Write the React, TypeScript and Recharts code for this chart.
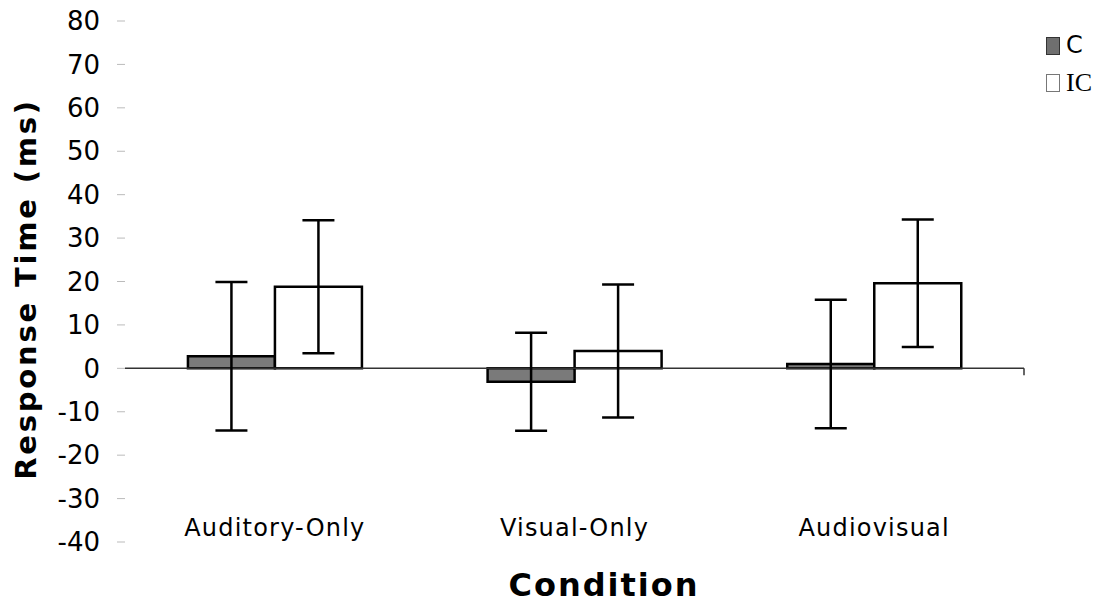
import React from 'react';
import { BarChart, Bar, XAxis, YAxis, ErrorBar, ReferenceLine } from 'recharts';

// values
const categories = ['Auditory-Only', 'Visual-Only', 'Audiovisual'];
const cMeans = [2.8, -3.1, 1.0];
const icMeans = [18.8, 4.0, 19.6];
const cErrors = [17.1, 11.3, 14.8];
const icErrors = [15.3, 15.3, 14.7];
const yTicks = [-40, -30, -20, -10, 0, 10, 20, 30, 40, 50, 60, 70, 80];
const seriesNames = ['C', 'IC'];

const data = categories.map((name, i) => ({
  name,
  C: cMeans[i],
  IC: icMeans[i],
  cErr: cErrors[i],
  icErr: icErrors[i],
}));

const FONT = 'DejaVu Sans';

const CategoryTick = (props: any) => {
  const { x, y, payload } = props;
  return (
    <text x={x} y={y} dy={-14} textAnchor="middle" fontSize={24} letterSpacing={1.2} fontFamily={FONT} fill="#000">
      {payload.value}
    </text>
  );
};

// legend drawn as plain html next to the chart so it doesn't eat plot space
const LegendBox = () => (
  <div style={{ position: 'absolute', left: 1046, top: 27, fontFamily: FONT, fontSize: 24, lineHeight: '37px', color: '#000' }}>
    <div style={{ display: 'flex', alignItems: 'center' }}>
      <span style={{ width: 14, height: 18, background: '#6f6f6f', border: '1px solid #333', boxSizing: 'border-box', marginRight: 6 }} />
      <span>{seriesNames[0]}</span>
    </div>
    <div style={{ display: 'flex', alignItems: 'center' }}>
      <span style={{ width: 14, height: 18, background: '#fff', border: '1px solid #777', boxSizing: 'border-box', marginRight: 6 }} />
      <span style={{ fontFamily: 'Liberation Serif', fontSize: 26 }}>{seriesNames[1]}</span>
    </div>
  </div>
);

const ZeroLineEnd = (props: any) => {
  const vb = props.viewBox || {};
  const x = (vb.x ?? 0) + (vb.width ?? 0);
  return <line x1={x} y1={vb.y} x2={x} y2={(vb.y ?? 0) + 7} stroke="#333" strokeWidth={1.5} />;
};

const App: React.FC = () => {
  return (
    <div style={{ position: 'absolute', left: 0, top: 0, width: 1110, height: 613, background: '#fff' }}>
      <BarChart
        width={1110}
        height={613}
        data={data}
        margin={{ top: 21, right: 86, left: 0, bottom: 41 }}
        barCategoryGap="21%"
        barGap={0}
      >
        <YAxis
          type="number"
          domain={[-40, 80]}
          ticks={yTicks}
          width={125}
          axisLine={false}
          tickSize={8}
          tickMargin={17}
          tickLine={{ stroke: '#bbb' }}
          tick={{ fontSize: 26, fontFamily: FONT, fill: '#000' }}
          label={{
            content: () => (
              <text
                transform="translate(36,289) rotate(-90)"
                textAnchor="middle"
                fontSize={29}
                fontWeight="bold"
                letterSpacing={2.8}
                fontFamily={FONT}
                fill="#000"
              >
                Response Time (ms)
              </text>
            ),
          }}
        />
        <XAxis
          dataKey="name"
          height={30}
          axisLine={false}
          tickLine={false}
          tick={<CategoryTick />}
          label={{
            content: () => (
              <text x={604} y={596} textAnchor="middle" fontSize={32} fontWeight="bold" letterSpacing={2} fontFamily={FONT} fill="#000">
                Condition
              </text>
            ),
          }}
        />
        <ReferenceLine y={0} stroke="#333" strokeWidth={1.5} label={<ZeroLineEnd />} />
        <Bar dataKey="C" fill="#7a7a7a" stroke="#000" strokeWidth={2.5} isAnimationActive={false}>
          <ErrorBar dataKey="cErr" width={16} stroke="#000" strokeWidth={2.5} />
        </Bar>
        <Bar dataKey="IC" fill="#fff" stroke="#000" strokeWidth={2.5} isAnimationActive={false}>
          <ErrorBar dataKey="icErr" width={16} stroke="#000" strokeWidth={2.5} />
        </Bar>
      </BarChart>
      <LegendBox />
    </div>
  );
};

export default App;
